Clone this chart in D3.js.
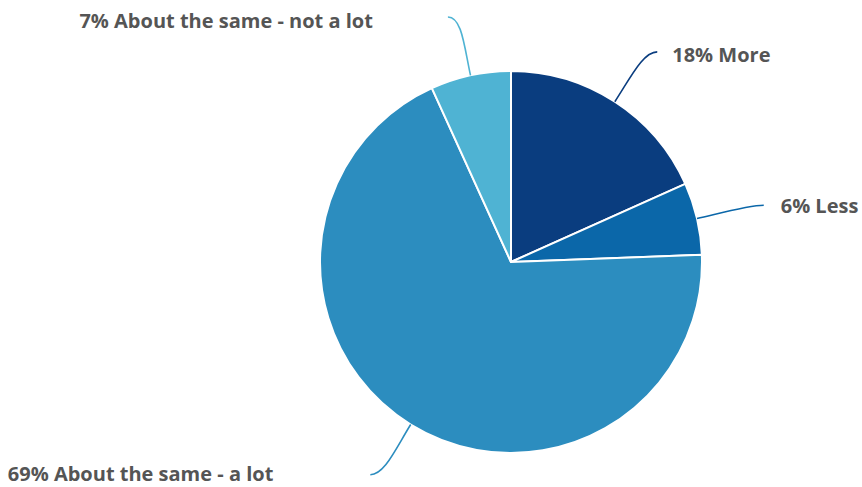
<!DOCTYPE html>
<html><head><meta charset="utf-8">
<script src="https://cdn.jsdelivr.net/npm/d3@7"></script>
<style>body{margin:0;background:#fff}svg{display:block}</style>
</head><body>
<svg id="c" width="862" height="487"></svg>
<script>
const categories = ["More", "Less", "About the same - a lot", "About the same - not a lot"];
const values = [18.3, 6.1, 68.8, 6.8];
const labels = ["18%", "6%", "69%", "7%"];
const colors = ["#0a3d7f", "#0b67a9", "#2c8dbf", "#4fb3d3"];

// layout
const cx = 511, cy = 262, R = 191;
const endRadius = [256, 259, 255, 253];
const endNudgeDeg = [1.9, 0.5, 1.8, -2.2];
const labelGap = [15, 17, 97, 75];
const labelDy = [10, 8, 6, 11];

const svg = d3.select("#c");
const g = svg.append("g").attr("transform", `translate(${cx},${cy})`);
const data = categories.map((c, i) => ({cat: c, v: values[i], lab: labels[i], col: colors[i], i}));
const pie = d3.pie().value(d => d.v).sort(null);
const arc = d3.arc().innerRadius(0).outerRadius(R);
const arcs = pie(data);

g.selectAll("path.s").data(arcs).join("path").attr("class", "s")
  .attr("d", arc).attr("fill", d => d.data.col)
  .attr("stroke", "#fff").attr("stroke-width", 2).attr("stroke-linejoin", "round");

arcs.forEach(a => {
  const i = a.data.i;
  const m = (a.startAngle + a.endAngle) / 2;
  const sx = Math.sin(m), sy = -Math.cos(m);
  const me = m + endNudgeDeg[i] * Math.PI / 180;
  const re = endRadius[i];
  const p0 = [sx * R, sy * R];
  const p3 = [Math.sin(me) * re, -Math.cos(me) * re];
  const right = sx >= 0;
  const c1 = [sx * (R + 30), sy * (R + 30)];
  const c2 = [p3[0] + (right ? -14 : 14), p3[1]];
  const path = d3.path();
  path.moveTo(p0[0], p0[1]);
  path.bezierCurveTo(c1[0], c1[1], c2[0], c2[1], p3[0], p3[1]);
  g.append("path").attr("d", path.toString()).attr("fill", "none")
    .attr("stroke", a.data.col).attr("stroke-width", 1.6);
  const gap = labelGap[i];
  g.append("text")
    .attr("x", p3[0] + (right ? gap : -gap))
    .attr("y", p3[1] + labelDy[i])
    .attr("text-anchor", right ? "start" : "end")
    .attr("font-family", "'Open Sans', Lato, sans-serif")
    .attr("font-weight", "bold")
    .attr("font-size", 20)
    .attr("fill", "#555555")
    .text(a.data.lab + " " + a.data.cat);
});
</script>
</body></html>
